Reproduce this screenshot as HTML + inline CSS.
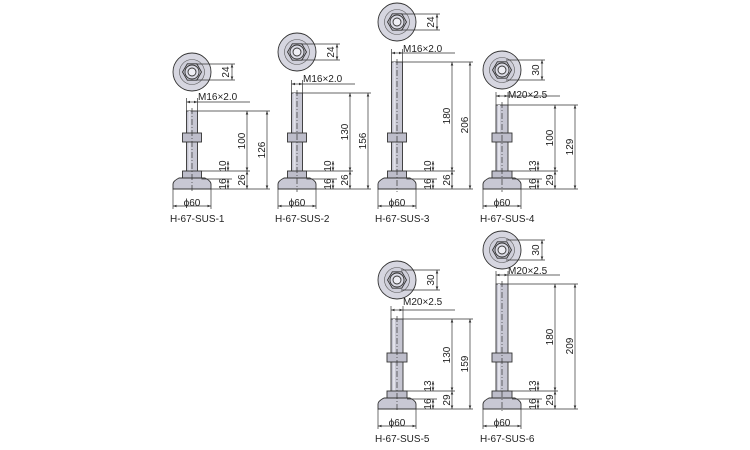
<!DOCTYPE html>
<html><head><meta charset="utf-8"><style>
body{margin:0;background:#fff}
svg{display:block}
text{font-family:"Liberation Sans",sans-serif;font-size:10px;fill:#222}
</style></head><body>
<svg id="s" width="750" height="450" viewBox="0 0 750 450" xmlns="http://www.w3.org/2000/svg">
<defs><marker id="a" viewBox="0 0 6 6" refX="6" refY="3" markerWidth="5" markerHeight="5" orient="auto-start-reverse"><path d="M0,0.8 L6,3 L0,5.2z" fill="#333"/></marker></defs>
<g id="g"></g>
<text x="198" y="100">M16×2.0</text>
<text transform="rotate(-90 245 141)" x="245" y="141" text-anchor="middle">100</text>
<text transform="rotate(-90 265 150)" x="265" y="150" text-anchor="middle">126</text>
<text transform="rotate(-90 226 166)" x="226" y="166" text-anchor="middle">10</text>
<text transform="rotate(-90 226 184)" x="226" y="184" text-anchor="middle">16</text>
<text transform="rotate(-90 245 180)" x="245" y="180" text-anchor="middle">26</text>
<text transform="rotate(-90 229 72)" x="229" y="72" text-anchor="middle">24</text>
<text x="192" y="206" text-anchor="middle">ϕ60</text>
<text x="170" y="222">H-67-SUS-1</text>

<text x="303" y="82">M16×2.0</text>
<text transform="rotate(-90 348 132)" x="348" y="132" text-anchor="middle">130</text>
<text transform="rotate(-90 366 141)" x="366" y="141" text-anchor="middle">156</text>
<text transform="rotate(-90 331 166)" x="331" y="166" text-anchor="middle">10</text>
<text transform="rotate(-90 331 184)" x="331" y="184" text-anchor="middle">16</text>
<text transform="rotate(-90 348 180)" x="348" y="180" text-anchor="middle">26</text>
<text transform="rotate(-90 334 52)" x="334" y="52" text-anchor="middle">24</text>
<text x="297" y="206" text-anchor="middle">ϕ60</text>
<text x="275" y="222">H-67-SUS-2</text>

<text x="403" y="52">M16×2.0</text>
<text transform="rotate(-90 450 116)" x="450" y="116" text-anchor="middle">180</text>
<text transform="rotate(-90 468 125)" x="468" y="125" text-anchor="middle">206</text>
<text transform="rotate(-90 431 166)" x="431" y="166" text-anchor="middle">10</text>
<text transform="rotate(-90 431 184)" x="431" y="184" text-anchor="middle">16</text>
<text transform="rotate(-90 450 180)" x="450" y="180" text-anchor="middle">26</text>
<text transform="rotate(-90 434 22)" x="434" y="22" text-anchor="middle">24</text>
<text x="397" y="206" text-anchor="middle">ϕ60</text>
<text x="375" y="222">H-67-SUS-3</text>

<text x="508" y="98">M20×2.5</text>
<text transform="rotate(-90 553 138)" x="553" y="138" text-anchor="middle">100</text>
<text transform="rotate(-90 573 147)" x="573" y="147" text-anchor="middle">129</text>
<text transform="rotate(-90 536 166)" x="536" y="166" text-anchor="middle">13</text>
<text transform="rotate(-90 536 184)" x="536" y="184" text-anchor="middle">16</text>
<text transform="rotate(-90 553 180)" x="553" y="180" text-anchor="middle">29</text>
<text transform="rotate(-90 539 70)" x="539" y="70" text-anchor="middle">30</text>
<text x="502" y="206" text-anchor="middle">ϕ60</text>
<text x="480" y="222">H-67-SUS-4</text>

<text x="403" y="305">M20×2.5</text>
<text transform="rotate(-90 450 355)" x="450" y="355" text-anchor="middle">130</text>
<text transform="rotate(-90 468 364)" x="468" y="364" text-anchor="middle">159</text>
<text transform="rotate(-90 431 386)" x="431" y="386" text-anchor="middle">13</text>
<text transform="rotate(-90 431 404)" x="431" y="404" text-anchor="middle">16</text>
<text transform="rotate(-90 450 400)" x="450" y="400" text-anchor="middle">29</text>
<text transform="rotate(-90 434 280)" x="434" y="280" text-anchor="middle">30</text>
<text x="397" y="426" text-anchor="middle">ϕ60</text>
<text x="375" y="442">H-67-SUS-5</text>

<text x="508" y="274">M20×2.5</text>
<text transform="rotate(-90 553 337)" x="553" y="337" text-anchor="middle">180</text>
<text transform="rotate(-90 573 346)" x="573" y="346" text-anchor="middle">209</text>
<text transform="rotate(-90 536 386)" x="536" y="386" text-anchor="middle">13</text>
<text transform="rotate(-90 536 404)" x="536" y="404" text-anchor="middle">16</text>
<text transform="rotate(-90 553 400)" x="553" y="400" text-anchor="middle">29</text>
<text transform="rotate(-90 539 250)" x="539" y="250" text-anchor="middle">30</text>
<text x="502" y="426" text-anchor="middle">ϕ60</text>
<text x="480" y="442">H-67-SUS-6</text>
</svg>
<script>
var items=[
[192,111,189,133,72,247,267,5.5,8],
[297,93,189,133,52,350,368,5.5,8],
[397,62,189,133,22,452,470,5.5,8],
[502,105,189,133,70,555,575,6,10],
[397,319,409,353,280,452,470,6,10],
[502,284,409,353,250,555,575,6,10]];
var h='';
function L(x1,y1,x2,y2,ex){h+='<line x1="'+x1+'" y1="'+y1+'" x2="'+x2+'" y2="'+y2+'" stroke="#333" stroke-width="0.7" '+(ex||'')+'/>';}
function D(x1,y1,x2,y2){L(x1,y1,x2,y2,'marker-start="url(#a)" marker-end="url(#a)"');}
var st='stroke="#333" stroke-width="0.9"';
items.forEach(function(p){
var cx=p[0],T=p[1],B=p[2],N=p[3],cy=p[4],d1=p[5],d2=p[6],w=p[7],s=p[8];
// top view
h+='<circle cx="'+cx+'" cy="'+cy+'" r="19" fill="#d6d6e0" '+st+'/>';
h+='<circle cx="'+cx+'" cy="'+cy+'" r="12.5" fill="#cfcfda" stroke="#555" stroke-width="0.6"/>';
var hx='';for(var i=0;i<6;i++){var a=Math.PI/3*i;hx+=(cx+9.5*Math.cos(a)).toFixed(1)+','+(cy+9.5*Math.sin(a)).toFixed(1)+' ';}
h+='<polygon points="'+hx+'" fill="#c4c4d0" '+st+'/>';
h+='<circle cx="'+cx+'" cy="'+cy+'" r="7" fill="#dcdce6" '+st+'/>';
h+='<circle cx="'+cx+'" cy="'+cy+'" r="4" fill="#eeeef4" '+st+'/>';
L(cx+4,cy-s,cx+43,cy-s);L(cx+4,cy+s,cx+43,cy+s);D(cx+40,cy-s,cx+40,cy+s);
// shaft
h+='<rect x="'+(cx-w)+'" y="'+T+'" width="'+(2*w)+'" height="'+(B-T-10)+'" fill="#c6c6d2" '+st+'/>';
h+='<rect x="'+(cx-w+2)+'" y="'+T+'" width="2" height="'+(B-T-10)+'" fill="#e2e2ea"/>';
// upper nut
h+='<rect x="'+(cx-w-4)+'" y="'+N+'" width="'+(2*w+8)+'" height="9" fill="#bdbdca" '+st+'/>';
// lower nut
h+='<rect x="'+(cx-w-4)+'" y="'+(B-18)+'" width="'+(2*w+8)+'" height="8" fill="#bdbdca" '+st+'/>';
// base
h+='<path d="M'+(cx-13)+','+(B-11)+' L'+(cx+13)+','+(B-11)+' Q'+(cx+19)+','+(B-8)+' '+(cx+19)+','+(B-5)+' L'+(cx+19)+','+B+' L'+(cx-19)+','+B+' L'+(cx-19)+','+(B-5)+' Q'+(cx-19)+','+(B-8)+' '+(cx-13)+','+(B-11)+'z" fill="#c8c8d4" '+st+'/>';
// centerline
L(cx,T-3,cx,B+3,'stroke-dasharray="6,2,1,2"');
// M dim
L(cx-w,T,cx-w,T-13);L(cx+w,T,cx+w,T-13);D(cx-w,T-9,cx+w,T-9);L(cx+w,T-9,cx+58,T-9);
// extension lines
L(cx+w,T,d2+3,T);L(cx+w+4,B-18,d1+3,B-18);L(cx+19,B,d2+3,B);L(cx+w+4,B-10,cx+40,B-10);
D(d1,T,d1,B-18);D(d1,B-18,d1,B);D(d2,T,d2,B);
D(cx+36,B-28,cx+36,B-18);D(cx+36,B-10,cx+36,B);
// phi60
L(cx-19,B,cx-19,B+20);L(cx+19,B,cx+19,B+20);D(cx-19,B+17,cx+19,B+17);
});
document.getElementById('g').innerHTML=h;
</script>
</body></html>
